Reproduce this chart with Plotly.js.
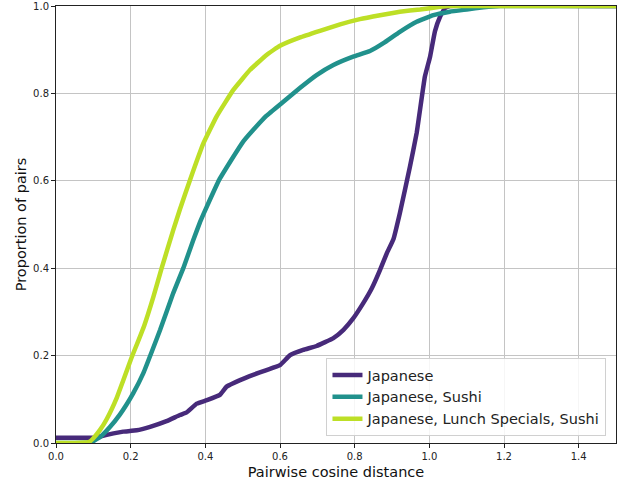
<!DOCTYPE html>
<html>
<head>
<meta charset="utf-8">
<script src="https://cdn.plot.ly/plotly-3.0.1.min.js"></script>
<style>
  html, body { margin: 0; padding: 0; background: #fff; }
  #chart { width: 628px; height: 482px; }
</style>
</head>
<body>
<div id="chart"></div>
<script>
// Cumulative share of restaurant pairs within a given cosine distance
const seriesNames = ["Japanese", "Japanese, Sushi", "Japanese, Lunch Specials, Sushi"];
const seriesColors = ["#472a7a", "#21918c", "#bddf26"];

const japaneseX = [0, 0.05, 0.1, 0.118, 0.154, 0.18, 0.216, 0.252, 0.296, 0.332, 0.35, 0.377, 0.404, 0.439, 0.457, 0.493, 0.528, 0.564, 0.6, 0.627, 0.662, 0.698, 0.743, 0.77, 0.796, 0.823, 0.846, 0.868, 0.886, 0.904, 0.921, 0.948, 0.966, 0.988, 1.002, 1.015, 1.029, 1.042, 1.055, 1.5];
const japaneseY = [0.012, 0.012, 0.012, 0.015, 0.022, 0.026, 0.029, 0.037, 0.05, 0.064, 0.07, 0.09, 0.098, 0.11, 0.129, 0.144, 0.156, 0.167, 0.178, 0.201, 0.213, 0.222, 0.24, 0.259, 0.285, 0.32, 0.354, 0.396, 0.434, 0.467, 0.526, 0.632, 0.709, 0.838, 0.884, 0.942, 0.976, 0.995, 1.0, 1.0];

const sushiX = [0, 0.05, 0.095, 0.12, 0.145, 0.171, 0.189, 0.207, 0.234, 0.257, 0.279, 0.314, 0.341, 0.368, 0.386, 0.404, 0.437, 0.475, 0.5, 0.528, 0.564, 0.609, 0.654, 0.698, 0.743, 0.796, 0.841, 0.877, 0.921, 0.966, 1.011, 1.055, 1.1, 1.145, 1.19, 1.5];
const sushiY = [0, 0, 0.002, 0.015, 0.037, 0.065, 0.088, 0.114, 0.16, 0.21, 0.259, 0.343, 0.4, 0.465, 0.506, 0.541, 0.602, 0.655, 0.688, 0.716, 0.749, 0.781, 0.813, 0.842, 0.865, 0.884, 0.897, 0.915, 0.941, 0.964, 0.979, 0.987, 0.992, 0.997, 1.0, 1.0];

const lunchX = [0, 0.05, 0.088, 0.1, 0.118, 0.136, 0.163, 0.18, 0.2, 0.236, 0.261, 0.283, 0.314, 0.332, 0.359, 0.395, 0.43, 0.475, 0.52, 0.564, 0.6, 0.654, 0.707, 0.761, 0.814, 0.868, 0.921, 0.975, 1.029, 1.055, 1.5];
const lunchY = [0, 0, 0.002, 0.011, 0.03, 0.055, 0.104, 0.143, 0.19, 0.268, 0.335, 0.4, 0.487, 0.535, 0.602, 0.686, 0.747, 0.808, 0.854, 0.888, 0.909, 0.928, 0.943, 0.958, 0.97, 0.979, 0.987, 0.992, 0.998, 1.0, 1.0];

const xs = [japaneseX, sushiX, lunchX];
const ys = [japaneseY, sushiY, lunchY];

const traces = seriesNames.map((name, i) => ({
  type: "scatter",
  mode: "lines",
  name: name,
  x: xs[i],
  y: ys[i],
  line: { color: seriesColors[i], width: 4.5, shape: "spline", smoothing: 0.3 },
  hoverinfo: "skip"
}));

const axisCommon = {
  showgrid: true,
  gridcolor: "#c4c4c4",
  gridwidth: 1,
  zeroline: false,
  showline: true,
  mirror: true,
  linecolor: "#222",
  linewidth: 1,
  ticks: "outside",
  ticklen: 4,
  tickcolor: "#222",
  tickformat: ".1f",
  dtick: 0.2,
  tick0: 0,
  tickfont: { family: "DejaVu Sans", size: 10, color: "#222" }
};

const layout = {
  width: 628,
  height: 482,
  margin: { l: 56, r: 12, t: 6, b: 39 },
  paper_bgcolor: "#fff",
  plot_bgcolor: "#fff",
  font: { family: "DejaVu Sans", color: "#111" },
  xaxis: Object.assign({}, axisCommon, {
    range: [0, 1.5],
    title: { text: "Pairwise cosine distance", font: { size: 14.5, color: "#111" }, standoff: 5 }
  }),
  yaxis: Object.assign({}, axisCommon, {
    range: [0, 1],
    title: { text: "Proportion of pairs", font: { size: 14.5, color: "#111" }, standoff: 3 }
  }),
  legend: {
    x: 0.483,
    y: 0.016,
    xanchor: "left",
    yanchor: "bottom",
    bgcolor: "rgba(255,255,255,0.85)",
    bordercolor: "#d0d0d0",
    borderwidth: 1,
    font: { family: "DejaVu Sans", size: 14.5, color: "#222" },
    tracegroupgap: 0
  },
  showlegend: true
};

Plotly.newPlot("chart", traces, layout, { displayModeBar: false, staticPlot: true });
</script>
</body>
</html>
